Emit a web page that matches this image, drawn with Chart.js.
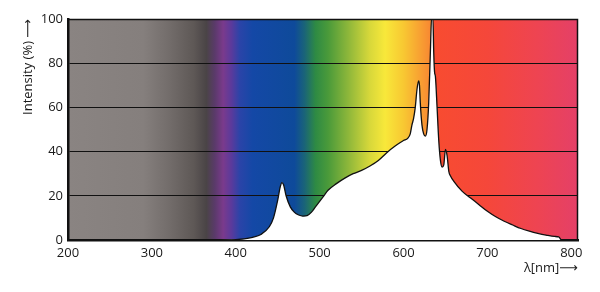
<!DOCTYPE html>
<html>
<head>
<meta charset="utf-8">
<script src="https://cdn.jsdelivr.net/npm/chart.js@4/dist/chart.umd.min.js"></script>
<style>
html,body{margin:0;padding:0;background:#fff;}
#wrap{width:600px;height:292px;}
</style>
</head>
<body>
<div id="wrap"><canvas id="c"></canvas></div>
<script>
// Wavelength (nm) and relative intensity (%)
const wavelengths = [380,400,410,420,430,440,445,450,453,455,457,460,465,470,475,480,485,490,495,500,505,510,520,530,540,550,560,570,580,590,600,605,608,610,612,614,616,618,619,620,622,624,626,628,630,632,633.5,635,636,637,638,640,642,644,646,648,650,652,654,656,660,670,680,690,700,710,720,730,740,750,760,770,780,785,788];
const intensity   = [0,0.2,0.5,1.2,2.5,6,10,18,24,26,25,20,15,12.5,11.3,10.8,11,12.5,15,17.5,20,22.5,25.5,28,30,31.5,33.5,36,39.5,42.5,45,46,48,52,55,60,68,72,70,62,52,48,47,50,62,85,101,101,85,76,74,60,45,36,33,34,41,38,31,29,26.5,22,19,16,13,10.5,8.5,6.8,5.2,4,3,2.2,1.6,1.4,0];
const xTicks = [200,300,400,500,600,700,800];
const yTicks = [0,20,40,60,80,100];

// Spectrum background colour stops (wavelength, colour)
const bgStops = [
  [200,'#8a8482'],[290,'#857f7d'],[320,'#736d6b'],[350,'#5e5856'],[365,'#4a4446'],
  [375,'#5a3a6a'],[385,'#7a3a8c'],[395,'#5a3a9c'],[405,'#2a44a8'],[420,'#1448a6'],
  [470,'#0e4a9a'],[482,'#1a6478'],[495,'#2e8a44'],[510,'#4a9a3a'],[535,'#90b83a'],
  [560,'#d8d83a'],[578,'#f8e83a'],[600,'#f8c832'],[620,'#f8a032'],[634,'#f88432'],
  [635,'#f84c30'],[700,'#f5473a'],[760,'#ee4452'],[808,'#e44068']
];

const spectrumBg = {
  id: 'spectrumBg',
  beforeDraw(chart) {
    const {ctx, chartArea: a, scales: {x}} = chart;
    const span = a.right - a.left;
    const g = ctx.createLinearGradient(a.left, 0, a.right, 0);
    bgStops.forEach(([w, c]) => {
      const p = (x.getPixelForValue(w) - a.left) / span;
      g.addColorStop(Math.min(1, Math.max(0, p)), c);
    });
    ctx.save();
    ctx.fillStyle = g;
    ctx.fillRect(a.left, a.top, span, a.bottom - a.top);
    ctx.restore();
  },
  afterDraw(chart) {
    const {ctx, chartArea: a} = chart;
    ctx.save();
    ctx.strokeStyle = '#111';
    ctx.lineWidth = 1.5;
    ctx.beginPath();
    ctx.moveTo(a.left, a.top + 0.5);
    ctx.lineTo(a.right - 0.5, a.top + 0.5);
    ctx.lineTo(a.right - 0.5, a.bottom);
    ctx.stroke();
    ctx.restore();
  }
};

const FONT = '"Open Sans", "DejaVu Sans", sans-serif';

new Chart(document.getElementById('c'), {
  type: 'line',
  data: {
    datasets: [{
      data: wavelengths.map((w, i) => ({x: w, y: intensity[i]})),
      borderColor: '#111',
      borderWidth: 1.3,
      backgroundColor: '#ffffff',
      fill: 'origin',
      pointRadius: 0,
      cubicInterpolationMode: 'monotone'
    }]
  },
  options: {
    responsive: true,
    maintainAspectRatio: false,
    animation: false,
    events: [],
    layout: {padding: {top: 19, right: 22, left: 0, bottom: 14}},
    plugins: {legend: {display: false}, tooltip: {enabled: false}},
    scales: {
      x: {
        type: 'linear',
        min: 200, max: 808,
        afterBuildTicks(s) { s.ticks = xTicks.map(v => ({value: v})); },
        afterFit(s) { s.height = 38; },
        grid: {display: false, drawTicks: false},
        border: {display: true, color: '#111', width: 2.5},
        ticks: {color: '#1a1a1a', font: {family: FONT, size: 13}, padding: 5, maxRotation: 0, autoSkip: false},
        title: {display: true, text: 'λ[nm]⟶', align: 'end', color: '#1a1a1a', font: {family: FONT, size: 13}, padding: {top: 0, bottom: 2}}
      },
      y: {
        min: 0, max: 100,
        afterBuildTicks(s) { s.ticks = yTicks.map(v => ({value: v})); },
        afterFit(s) { s.width = 68; },
        grid: {color: '#111', lineWidth: 1, drawTicks: false},
        border: {display: true, color: '#111', width: 2.5},
        ticks: {color: '#1a1a1a', font: {family: FONT, size: 13}, padding: 5},
        title: {display: true, text: 'Intensity (%) ⟶', align: 'end', color: '#1a1a1a', font: {family: FONT, size: 13}, padding: {top: 20, bottom: 0}}
      }
    }
  },
  plugins: [spectrumBg]
});
</script>
</body>
</html>
